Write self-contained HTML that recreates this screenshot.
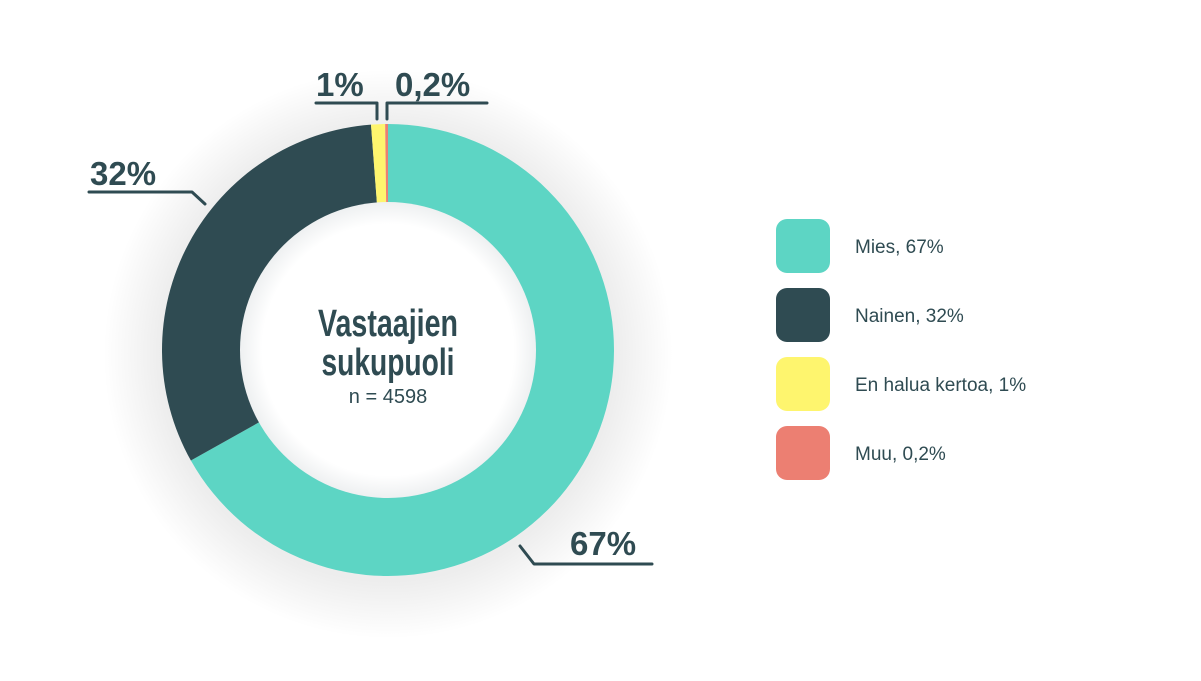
<!DOCTYPE html>
<html><head><meta charset="utf-8"><style>
html,body{margin:0;padding:0;background:#fff;}
svg{display:block;font-family:"Liberation Sans",sans-serif;}
</style></head><body>
<svg width="1201" height="681" viewBox="0 0 1201 681">
<defs>
<radialGradient id="glow" cx="50%" cy="50%" r="50%">
<stop offset="0.8" stop-color="#000" stop-opacity="0.07"/>
<stop offset="1" stop-color="#000" stop-opacity="0"/>
</radialGradient>
<radialGradient id="inglow" cx="50%" cy="50%" r="50%">
<stop offset="0.85" stop-color="#fff" stop-opacity="1"/>
<stop offset="1" stop-color="#eef0f1" stop-opacity="1"/>
</radialGradient>
</defs>
<circle cx="388" cy="354" r="285" fill="url(#glow)"/>
<g id="slices"></g>
<circle cx="388" cy="350" r="148" fill="url(#inglow)"/>
<text x="388" y="336" font-size="38" font-weight="bold" fill="#2f4b52" text-anchor="middle" textLength="140" lengthAdjust="spacingAndGlyphs">Vastaajien</text>
<text x="388" y="375" font-size="38" font-weight="bold" fill="#2f4b52" text-anchor="middle" textLength="133" lengthAdjust="spacingAndGlyphs">sukupuoli</text>
<text x="388" y="403" font-size="20" fill="#2f4b52" text-anchor="middle">n = 4598</text>
<g fill="none" stroke="#2f4b52" stroke-width="3" stroke-linecap="round" stroke-linejoin="round">
<polyline points="316,103 377,103 377,119"/>
<polyline points="487,103 387,103 387,119"/>
<polyline points="89,192 192,192 205,204"/>
<polyline points="520,546 534,564 652,564"/>
</g>
<g font-weight="bold" font-size="33" fill="#2f4b52">
<text x="316" y="96">1%</text>
<text x="395" y="96">0,2%</text>
<text x="90" y="185">32%</text>
<text x="570" y="555">67%</text>
</g>
<g id="legend"></g>
</svg>
<script>
const categories = ["Mies, 67%", "Nainen, 32%", "En halua kertoa, 1%", "Muu, 0,2%"];
const values = [67, 32, 1, 0.2];
const colors = ["#5dd5c4", "#2f4b52", "#fef56e", "#ec7f72"];
const NS = "http://www.w3.org/2000/svg";
const cx = 388, cy = 350, R = 226, r = 146;
const total = values.reduce((a, b) => a + b, 0);
function pt(angle, rad) { return [cx + rad * Math.sin(angle), cy - rad * Math.cos(angle)]; }
const sl = document.getElementById("slices");
let acc = 0;
values.forEach((v, i) => {
  const a0 = acc / total * 2 * Math.PI;
  acc += v;
  const a1 = acc / total * 2 * Math.PI;
  const large = (a1 - a0) > Math.PI ? 1 : 0;
  const p0 = pt(a0, R), p1 = pt(a1, R), q1 = pt(a1, r), q0 = pt(a0, r);
  const p = document.createElementNS(NS, "path");
  p.setAttribute("d", `M${p0[0]},${p0[1]} A${R},${R} 0 ${large} 1 ${p1[0]},${p1[1]} L${q1[0]},${q1[1]} A${r},${r} 0 ${large} 0 ${q0[0]},${q0[1]} Z`);
  p.setAttribute("fill", colors[i]);
  
  
  sl.appendChild(p);
});
const lg = document.getElementById("legend");
categories.forEach((c, i) => {
  const y = 219 + i * 69;
  const rect = document.createElementNS(NS, "rect");
  rect.setAttribute("x", 776); rect.setAttribute("y", y);
  rect.setAttribute("width", 54); rect.setAttribute("height", 54);
  rect.setAttribute("rx", 11); rect.setAttribute("fill", colors[i]);
  
  
  lg.appendChild(rect);
  const t = document.createElementNS(NS, "text");
  t.setAttribute("x", 855); t.setAttribute("y", y + 34);
  t.setAttribute("font-size", "19"); t.setAttribute("fill", "#2f4b52");
  t.textContent = c;
  
  
  lg.appendChild(t);
});
</script>
</body></html>
